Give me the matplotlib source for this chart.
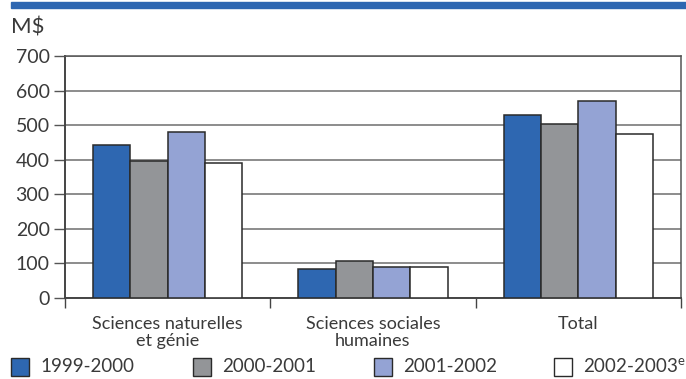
import matplotlib.pyplot as plt
import numpy as np
from matplotlib.patches import Rectangle

plt.rcParams['font.family'] = ['Lato', 'DejaVu Sans']
plt.rcParams['mathtext.fontset'] = 'custom'
plt.rcParams['mathtext.rm'] = 'Lato'

# Data (millions of dollars) #

categories = ['Sciences naturelles\net génie', 'Sciences sociales\nhumaines', 'Total']
years = ['1999-2000', '2000-2001', '2001-2002', '2002-2003$^{\\rm e}$']
v_1999 = [444, 84, 529]
v_2000 = [395, 108, 504]
v_2001 = [480, 90, 571]
v_2002 = [390, 91, 474]
series = [v_1999, v_2000, v_2001, v_2002]
colours = ['#2E67B1', '#939598', '#94A3D4', '#FFFFFF']

W, H = 686, 379
fig = plt.figure(figsize=(W/100, H/100), dpi=100)

# Axes box in pixel coordinates (left, right, top, bottom) #
x0, x1, y0, y1 = 65, 681, 56, 298
ax = fig.add_axes([x0/W, 1 - y1/H, (x1 - x0)/W, (y1 - y0)/H])

txt = '#3a3a3a'
bar_w = 0.182
x = np.arange(len(categories))
for i, (vals, col) in enumerate(zip(series, colours)):
    ax.bar(x + (i - 1.5)*bar_w, vals, bar_w, color=col, edgecolor='#2a2a2a',
           linewidth=1.1, zorder=3, label=years[i])

ax.set_xlim(-0.5, 2.5)
ax.set_ylim(0, 700)
ax.set_yticks(np.arange(0, 701, 100))
ax.yaxis.grid(True, color='#6d6d6d', linewidth=1.1, zorder=0)
ax.tick_params(axis='y', length=8, width=1, color='#555555', labelsize=14,
               labelcolor=txt, pad=3)

# Category labels sit between the boundary ticks #
ax.set_xticks(x)
ax.set_xticklabels(categories, fontsize=13, color=txt, linespacing=1.05)
ax.tick_params(axis='x', which='major', length=0, pad=13)
ax.set_xticks([-0.5, 0.5, 1.5, 2.5], minor=True)
ax.tick_params(axis='x', which='minor', length=7, width=1, color='#444444')

for s in ['left', 'bottom']:
    ax.spines[s].set_color('#444444')
    ax.spines[s].set_linewidth(1.4)
for s in ['top', 'right']:
    ax.spines[s].set_color('#555555')
    ax.spines[s].set_linewidth(1.1)

# Unit label and banner #
fig.text(11/W, 1 - 28/H, 'M$', fontsize=16, color=txt, va='center', ha='left')
fig.patches.append(Rectangle((11/W, 1 - 8/H), 1, 6/H, transform=fig.transFigure,
                             color='#2E67B1', zorder=5))

# Legend laid out along the bottom #
sq_x = [11, 193, 374, 554]
for sx, col, lab in zip(sq_x, colours, years):
    fig.patches.append(Rectangle((sx/W, 1 - 376/H), 18/W, 18/H, transform=fig.transFigure,
                                 facecolor=col, edgecolor='#2a2a2a', linewidth=1))
    fig.text((sx + 29)/W, 1 - 367/H, lab, fontsize=13.5, color=txt, va='center', ha='left')

fig.savefig('out.png', dpi=100)
